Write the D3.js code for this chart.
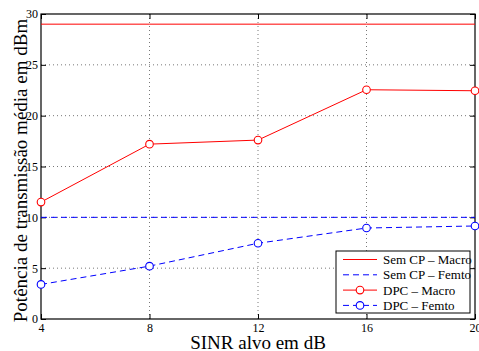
<!DOCTYPE html>
<html>
<head>
<meta charset="utf-8">
<script src="https://cdn.jsdelivr.net/npm/d3@7"></script>
<style>
  body { margin: 0; background: #fff; }
  svg text { font-family: "Liberation Serif", "Times New Roman", serif; }
</style>
</head>
<body>
<div id="chart"></div>
<script>
const SINR = [4, 8, 12, 16, 20];
const SEM_CP_MACRO = [29, 29, 29, 29, 29];
const SEM_CP_FEMTO = [10, 10, 10, 10, 10];
const DPC_MACRO = [11.5, 17.2, 17.6, 22.55, 22.45];
const DPC_FEMTO = [3.4, 5.2, 7.45, 8.95, 9.15];
const Y_TICKS = [0, 5, 10, 15, 20, 25, 30];
const LEGEND = ["Sem CP \u2013 Macro", "Sem CP \u2013 Femto", "DPC \u2013 Macro", "DPC \u2013 Femto"];

const W = 479, H = 351;
const MARGIN = { top: 14, right: 4, bottom: 32, left: 41 };
const iw = W - MARGIN.left - MARGIN.right;
const ih = H - MARGIN.top - MARGIN.bottom;

const svg = d3.select("#chart").append("svg")
    .attr("width", W)
    .attr("height", H);
const g = svg.append("g")
    .attr("transform", `translate(${MARGIN.left},${MARGIN.top})`);

const x = d3.scaleLinear().domain([4, 20]).range([0, iw]);
const y = d3.scaleLinear().domain([0, 30]).range([ih, 0]);

// grid
g.append("g").selectAll("line")
    .data(SINR.slice(1, -1))
    .join("line")
    .attr("x1", d => x(d)).attr("x2", d => x(d))
    .attr("y1", 0).attr("y2", ih)
    .attr("stroke", "#555").attr("stroke-width", 0.8)
    .attr("stroke-dasharray", "1,3");
g.append("g").selectAll("line")
    .data(Y_TICKS.slice(1, -1))
    .join("line")
    .attr("y1", d => y(d)).attr("y2", d => y(d))
    .attr("x1", 0).attr("x2", iw)
    .attr("stroke", "#555").attr("stroke-width", 0.8)
    .attr("stroke-dasharray", "1,3");

// axes (ticks inside, on all four sides)
const axStyle = sel => {
    sel.attr("font-family", null).attr("font-size", null);
    sel.select(".domain").remove();
    sel.selectAll("text")
        .style("font-size", "12px")
        .style("font-family", "'Liberation Serif', serif")
        .attr("fill", "#000");
    sel.selectAll(".tick line").attr("stroke", "#000");
};
g.append("g").attr("transform", `translate(0,${ih})`)
    .call(d3.axisBottom(x).tickValues(SINR).tickSizeInner(-5).tickPadding(4))
    .call(axStyle);
g.append("g")
    .call(d3.axisLeft(y).tickValues(Y_TICKS).tickSizeInner(-5).tickPadding(3))
    .call(axStyle);
g.append("g")
    .call(d3.axisTop(x).tickValues(SINR).tickSizeInner(-5).tickFormat(""))
    .call(axStyle);
g.append("g").attr("transform", `translate(${iw},0)`)
    .call(d3.axisRight(y).tickValues(Y_TICKS).tickSizeInner(-5).tickFormat(""))
    .call(axStyle);

g.append("rect")
    .attr("width", iw).attr("height", ih)
    .attr("fill", "none").attr("stroke", "#000").attr("stroke-width", 1.2);

const line = d3.line().x((d, i) => x(SINR[i])).y(d => y(d));

const series = [
    { data: SEM_CP_MACRO, color: "#ff0000", dash: null, marker: false },
    { data: SEM_CP_FEMTO, color: "#0000ff", dash: "6,4", marker: false },
    { data: DPC_MACRO, color: "#ff0000", dash: null, marker: true },
    { data: DPC_FEMTO, color: "#0000ff", dash: "6,4", marker: true }
];

series.forEach(s => {
    g.append("path").datum(s.data)
        .attr("fill", "none")
        .attr("stroke", s.color)
        .attr("stroke-width", 1)
        .attr("stroke-dasharray", s.dash)
        .attr("d", line);
    if (s.marker) {
        g.append("g").selectAll("circle")
            .data(s.data)
            .join("circle")
            .attr("cx", (d, i) => x(SINR[i]))
            .attr("cy", d => y(d))
            .attr("r", 3.8)
            .attr("fill", "#fff")
            .attr("stroke", s.color)
            .attr("stroke-width", 1.1);
    }
});

// legend
const lg = svg.append("g").attr("transform", "translate(336,251)");
lg.append("rect")
    .attr("width", 134).attr("height", 62)
    .attr("fill", "#fff").attr("stroke", "#000").attr("stroke-width", 1);
LEGEND.forEach((name, i) => {
    const s = series[i];
    const yy = 8.5 + i * 15.3;
    lg.append("line")
        .attr("x1", 7).attr("x2", 41).attr("y1", yy).attr("y2", yy)
        .attr("stroke", s.color).attr("stroke-width", 1)
        .attr("stroke-dasharray", s.dash);
    if (s.marker) {
        lg.append("circle").attr("cx", 24).attr("cy", yy).attr("r", 3.8)
            .attr("fill", "#fff").attr("stroke", s.color).attr("stroke-width", 1.1);
    }
    lg.append("text")
        .attr("x", 47).attr("y", yy + 4.5)
        .style("font-size", "13px")
        .text(name);
});

// axis labels
svg.append("text")
    .attr("x", MARGIN.left + iw / 2).attr("y", 349)
    .attr("text-anchor", "middle")
    .style("font-size", "19px")
    .text("SINR alvo em dB");
svg.append("text")
    .attr("transform", `translate(27,${MARGIN.top + ih / 2 + 4}) rotate(-90)`)
    .attr("text-anchor", "middle")
    .style("font-size", "19px")
    .text("Potência de transmissão média em dBm");
</script>
</body>
</html>
